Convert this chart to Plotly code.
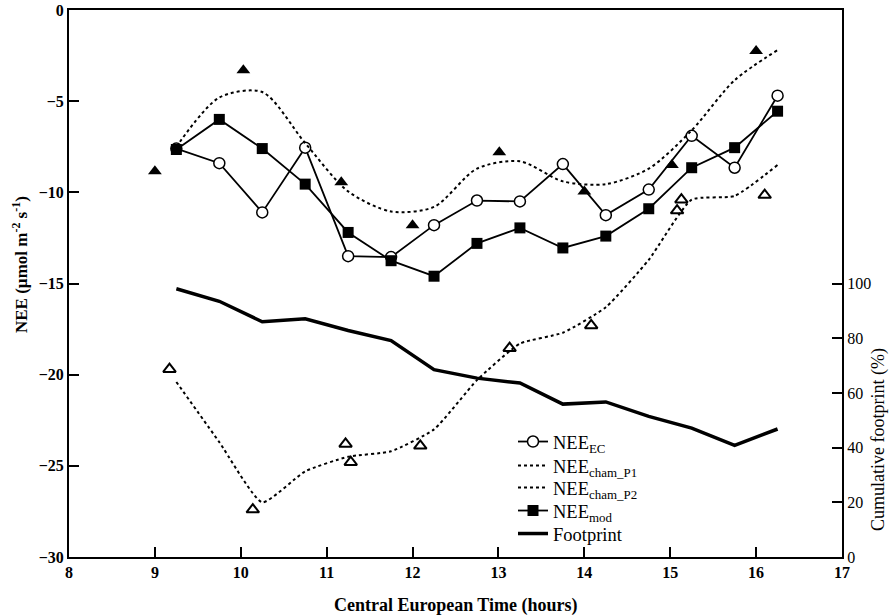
import plotly.graph_objects as go

# ---- data ----
time_half = [9.25, 9.75, 10.25, 10.75, 11.25, 11.75, 12.25, 12.75,
             13.25, 13.75, 14.25, 14.75, 15.25, 15.75, 16.25]

nee_ec = [-7.6, -8.4, -11.1, -7.55, -13.5, -13.55, -11.8, -10.45,
          -10.5, -8.45, -11.25, -9.85, -6.9, -8.65, -4.7]

nee_mod = [-7.65, -6.0, -7.6, -9.55, -12.2, -13.75, -14.6, -12.8,
           -11.95, -13.05, -12.4, -10.9, -8.65, -7.55, -5.55]

nee_cham_p1_line = [-7.5, -4.8, -4.5, -7.3, -9.95, -11.05, -10.8, -8.7,
                    -8.3, -9.4, -9.55, -8.7, -6.6, -3.85, -2.2]

nee_cham_p2_line = [-20.4, -23.7, -27.0, -25.3, -24.5, -24.2, -23.0, -20.3,
                    -18.3, -17.7, -16.3, -13.7, -10.4, -10.2, -8.5]

footprint = [98.1, 93.5, 86.0, 87.1, 82.8, 79.1, 68.5, 65.4,
             63.6, 55.9, 56.7, 51.4, 47.1, 40.8, 46.8]

p1_obs_time = [9.0, 10.03, 11.17, 12.0, 13.01, 14.0, 15.02, 16.0]
p1_obs_nee = [-8.85, -3.3, -9.45, -11.8, -7.8, -9.95, -8.5, -2.25]

p2_obs_time = [9.17, 10.14, 11.22, 11.28, 12.09, 13.13, 14.08, 15.13, 15.08, 16.1]
p2_obs_nee = [-19.7, -27.4, -23.8, -24.8, -23.9, -18.55, -17.3, -10.4, -11.0, -10.15]

x_ticks = [8, 9, 10, 11, 12, 13, 14, 15, 16, 17]
y_ticks = [-30, -25, -20, -15, -10, -5, 0]
y2_ticks = [0, 20, 40, 60, 80, 100]

legend_names = ["NEE<sub>EC</sub>", "NEE<sub>cham_P1</sub>", "NEE<sub>cham_P2</sub>",
                "NEE<sub>mod</sub>", "Footprint"]

FONT = "Liberation Serif"

fig = go.Figure()

fig.add_trace(go.Scatter(
    x=time_half, y=nee_ec, mode="lines+markers", name=legend_names[0], legend="legend",
    line=dict(color="black", width=1.8),
    marker=dict(symbol="circle", size=11, color="white",
                line=dict(color="black", width=1.5))))

fig.add_trace(go.Scatter(
    x=time_half, y=nee_cham_p1_line, mode="lines", name=legend_names[1], legend="legend2",
    line=dict(color="black", width=2, dash="dot", shape="spline", smoothing=0.8)))

fig.add_trace(go.Scatter(
    x=time_half, y=nee_cham_p2_line, mode="lines", name=legend_names[2], legend="legend3",
    line=dict(color="black", width=2, dash="dot", shape="spline", smoothing=0.5)))

fig.add_trace(go.Scatter(
    x=time_half, y=nee_mod, mode="lines+markers", name=legend_names[3], legend="legend4",
    line=dict(color="black", width=1.8),
    marker=dict(symbol="square", size=11, color="black")))

fig.add_trace(go.Scatter(
    x=time_half, y=footprint, mode="lines", name=legend_names[4], yaxis="y2",
    legend="legend5", line=dict(color="black", width=3.5)))

fig.add_trace(go.Scatter(
    x=p1_obs_time, y=p1_obs_nee, mode="markers", showlegend=False,
    marker=dict(symbol="triangle-up", size=12, color="black")))

fig.add_trace(go.Scatter(
    x=p2_obs_time, y=p2_obs_nee, mode="markers", showlegend=False,
    marker=dict(symbol="triangle-up-open", size=11, color="black",
                line=dict(width=2))))

axis_common = dict(showline=True, linecolor="black", linewidth=2,
                   ticks="inside", ticklen=10, tickwidth=1.5, tickcolor="black",
                   showgrid=False, zeroline=False, automargin=False)

# plot area: x 69..842, y 10..557 (height 547)
leg_x = (513 - 69) / 773
leg_rows_px = [442, 466, 488, 511, 534]
leg_rows = [(557 - p) / 547 for p in leg_rows_px]


def leg(y):
    return dict(x=leg_x, y=y, xanchor="left", yanchor="middle",
                bgcolor="rgba(0,0,0,0)", font=dict(size=18.5, family=FONT),
                borderwidth=0)


fig.update_layout(
    width=891, height=616,
    margin=dict(l=69, r=49, t=10, b=59, autoexpand=False),
    plot_bgcolor="white", paper_bgcolor="white",
    font=dict(family=FONT, color="black"),
    showlegend=True,
    xaxis=dict(range=[8, 17], tickvals=x_ticks, mirror=True,
               tickfont=dict(size=16, weight="bold"), **axis_common),
    yaxis=dict(range=[-30, 0], tickvals=y_ticks,
               tickfont=dict(size=16, weight="bold"), **axis_common),
    yaxis2=dict(range=[0, 200], tickvals=y2_ticks, overlaying="y", side="right",
                tickfont=dict(size=16), **axis_common),
    legend=leg(leg_rows[0]),
    legend2=leg(leg_rows[1]),
    legend3=leg(leg_rows[2]),
    legend4=leg(leg_rows[3]),
    legend5=leg(leg_rows[4]),
    annotations=[
        dict(text="Cumulative footprint (%)", xref="paper", yref="paper",
             x=1.0, xshift=36, y=(557 - 440) / 547, textangle=-90, showarrow=False,
             font=dict(size=18), xanchor="center", yanchor="middle"),
        dict(text="NEE (µmol m<sup>-2</sup> s<sup>-1</sup>)", xref="paper", yref="paper",
             x=0.0, xshift=-49, y=(557 - 265) / 547, textangle=-90, showarrow=False,
             font=dict(size=17, weight="bold"), xanchor="center", yanchor="middle"),
        dict(text="Central European Time (hours)", xref="paper", yref="paper",
             x=0.5, y=0.0, yshift=-48, showarrow=False,
             font=dict(size=18, weight="bold"), xanchor="center", yanchor="middle"),
    ],
)

fig.write_html("out.html", config={"displayModeBar": False},
               post_script="document.body.style.margin='0px';")
